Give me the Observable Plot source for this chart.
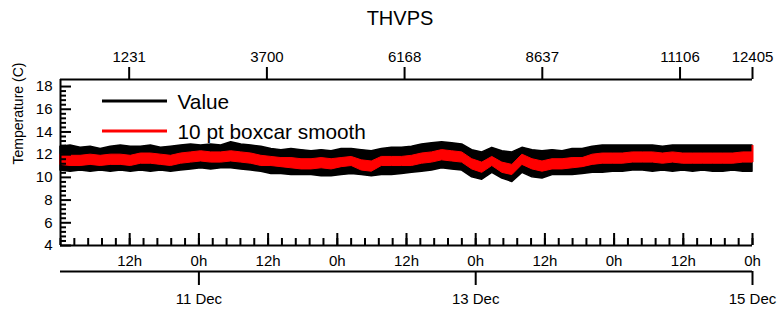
<!DOCTYPE html>
<html><head><meta charset="utf-8">
<script src="https://cdn.jsdelivr.net/npm/d3@7"></script>
<script src="https://cdn.jsdelivr.net/npm/@observablehq/plot@0.6"></script>
<style>
body{margin:0;background:#fff;font-family:"Liberation Sans",Arial,sans-serif;}
#title{height:36px;line-height:36px;width:778px;text-align:center;font-size:20px;padding-left:22px;box-sizing:border-box;color:#000;}
</style></head><body>
<div id="title">THVPS</div>
<div id="chart"></div>
<script>
// sample index positions where the envelopes were read
const sampleIdx = [0,180,360,540,720,900,1080,1260,1440,1620,1800,1980,2160,2340,2520,2700,2880,3060,3240,3420,3600,3780,3960,4140,4320,4500,4680,4860,5040,5220,5400,5580,5760,5940,6120,6300,6480,6660,6840,7020,7200,7380,7560,7740,7920,8100,8280,8460,8640,8820,9000,9180,9360,9540,9720,9900,10080,10260,10440,10620,10800,10980,11160,11340,11520,11700,11880,12060,12240,12405];
// "Value" series: upper / lower envelope (deg C)
const valueHi = [12.7,12.8,12.6,12.7,12.5,12.7,12.8,12.7,12.7,12.8,12.6,12.7,12.8,12.9,12.8,12.9,12.8,13.1,12.9,12.8,12.7,12.5,12.4,12.5,12.4,12.3,12.4,12.3,12.5,12.5,12.4,12.3,12.5,12.6,12.6,12.7,12.9,13.0,13.1,13.0,12.9,12.4,12.2,12.6,12.3,12.2,12.6,12.4,12.3,12.4,12.3,12.5,12.5,12.7,12.8,12.8,12.8,12.8,12.8,12.8,12.7,12.8,12.8,12.8,12.8,12.8,12.8,12.8,12.8,12.8];
const valueLo = [10.6,10.5,10.6,10.5,10.6,10.5,10.6,10.5,10.6,10.5,10.6,10.5,10.6,10.7,10.8,10.7,10.8,10.8,10.7,10.6,10.5,10.3,10.3,10.2,10.2,10.2,10.1,10.1,10.2,10.3,10.2,10.1,10.2,10.2,10.3,10.4,10.5,10.6,10.8,10.7,10.6,10.0,9.8,10.4,9.9,9.6,10.4,10.0,9.9,10.2,10.2,10.2,10.3,10.4,10.4,10.5,10.5,10.6,10.6,10.5,10.6,10.5,10.6,10.5,10.6,10.5,10.5,10.6,10.5,10.5];
// "10 pt boxcar smooth" series: upper / lower envelope (deg C)
const smoothHi = [12.0,11.9,11.9,12.0,11.9,12.0,12.0,11.9,12.1,12.1,12.0,11.9,12.1,12.2,12.3,12.2,12.2,12.3,12.2,12.1,11.9,11.8,11.7,11.7,11.6,11.6,11.7,11.6,11.7,11.8,11.5,11.4,11.8,11.8,11.8,11.9,12.1,12.2,12.4,12.3,12.2,11.6,11.3,11.8,11.3,11.1,12.0,11.6,11.4,11.6,11.6,11.7,11.7,12.0,12.1,12.1,12.1,12.2,12.2,12.2,12.1,12.2,12.1,12.1,12.1,12.1,12.1,12.1,12.2,12.2];
const smoothLo = [11.1,11.0,11.0,11.1,11.0,11.1,11.1,11.0,11.2,11.2,11.1,11.0,11.2,11.3,11.4,11.3,11.3,11.4,11.3,11.2,11.0,11.0,10.9,10.8,10.7,10.7,10.8,10.7,10.9,11.0,10.6,10.5,11.0,11.0,11.0,11.0,11.2,11.3,11.5,11.4,11.3,10.7,10.4,11.0,10.4,10.2,11.1,10.7,10.5,10.7,10.7,10.8,10.9,11.1,11.2,11.2,11.2,11.3,11.3,11.3,11.2,11.3,11.2,11.2,11.2,11.2,11.2,11.2,11.3,11.3];

const seriesNames = ["Value", "10 pt boxcar smooth"];
const seriesColors = ["black", "red"];

// axes
const nSamples = 12405;          // last sample number
const spanHours = 120;           // 10 Dec 0h .. 15 Dec 0h
const topTicks = [1231, 3700, 6168, 8637, 11106, 12405];
const yMajor = [4, 6, 8, 10, 12, 14, 16, 18];
const yMax = 18.62;
const hourTicks = [12, 24, 36, 48, 60, 72, 84, 96, 108, 120];
const hourLabels = ["12h","0h","12h","0h","12h","0h","12h","0h","12h","0h"];
const dateTicks = [24, 72, 120];
const dateLabels = ["11 Dec", "13 Dec", "15 Dec"];

const rows = sampleIdx.map((i, k) => ({i, vhi: valueHi[k], vlo: valueLo[k], shi: smoothHi[k], slo: smoothLo[k]}));
const h2i = h => h * nSamples / spanHours;
const yMinor = d3.range(4, 18.01, 0.4).filter(v => Math.abs(v / 2 - Math.round(v / 2)) > 1e-6);
const hourMinor = d3.range(0, spanHours + 0.01, 2.4);

const W = 778, H = 277, mL = 60, mR = 26, mT = 43, mB = 68;
const plotW = W - mL - mR, plotH = H - mT - mB;
const font = '"Liberation Sans", Arial, sans-serif';
const legendDy = [22, 52];

const chart = Plot.plot({
  width: W, height: H,
  marginLeft: mL, marginRight: mR, marginTop: mT, marginBottom: mB,
  style: {fontFamily: font, fontSize: "15px", color: "black", background: "white", overflow: "visible"},
  x: {domain: [0, nSamples], axis: null},
  y: {domain: [4, yMax], axis: null},
  marks: [
    Plot.areaY(rows, {x: "i", y1: "vlo", y2: "vhi", fill: seriesColors[0], stroke: seriesColors[0], strokeWidth: 1.5, curve: "linear"}),
    Plot.areaY(rows, {x: "i", y1: "slo", y2: "shi", fill: seriesColors[1], stroke: seriesColors[1], strokeWidth: 1, curve: "linear"}),
    Plot.ruleX([rows[rows.length - 1]], {x: "i", y1: "slo", y2: "vhi", stroke: seriesColors[1], strokeWidth: 2}),
    // frame lines
    Plot.ruleX([0], {stroke: "black", strokeWidth: 2}),
    Plot.ruleY([4], {stroke: "black", strokeWidth: 2}),
    Plot.ruleY([yMax], {stroke: "black", strokeWidth: 2}),
    Plot.ruleY([4], {stroke: "black", strokeWidth: 2, dy: 26}),
    // y ticks (inward)
    Plot.tickY(yMajor, {y: d => d, insetRight: plotW - 11, stroke: "black", strokeWidth: 2}),
    Plot.tickY(yMinor, {y: d => d, insetRight: plotW - 6, stroke: "black", strokeWidth: 2}),
    Plot.text(yMajor, {y: d => d, text: d => String(d), frameAnchor: "left", dx: -8, textAnchor: "end", fontSize: 15}),
    Plot.text(["Temperature (C)"], {frameAnchor: "left", dx: -42, dy: 2, rotate: -90, fontSize: 14}),
    // bottom hour axis (inward ticks)
    Plot.tickX(hourTicks, {x: h2i, insetTop: plotH - 12, stroke: "black", strokeWidth: 2}),
    Plot.tickX(hourMinor, {x: h2i, insetTop: plotH - 7, stroke: "black", strokeWidth: 2}),
    Plot.text(hourTicks, {x: h2i, text: (d, k) => hourLabels[k], frameAnchor: "bottom", dy: 16, lineAnchor: "middle", fontSize: 15}),
    // date axis
    Plot.tickX(dateTicks, {x: h2i, insetTop: plotH + 26, insetBottom: -40, stroke: "black", strokeWidth: 2}),
    Plot.text(dateTicks, {x: h2i, text: (d, k) => dateLabels[k], frameAnchor: "bottom", dy: 54, lineAnchor: "middle", fontSize: 15}),
    // top sample axis
    Plot.tickX(topTicks, {x: d => d, insetTop: -12, insetBottom: plotH, stroke: "black", strokeWidth: 2}),
    Plot.text(topTicks, {x: d => d, text: d => String(d), frameAnchor: "top", dy: -22, lineAnchor: "middle", fontSize: 15}),
    // legend labels
    ...seriesNames.map((name, k) =>
      Plot.text([name], {text: d => d, frameAnchor: "top-left", dx: 117, dy: legendDy[k] + 1, textAnchor: "start", lineAnchor: "middle", fontSize: 20.8}))
  ]
});
// legend line samples
const svg = d3.select(chart);
seriesColors.forEach((c, k) => {
  svg.append("line").attr("x1", 102).attr("x2", 167)
    .attr("y1", mT + legendDy[k]).attr("y2", mT + legendDy[k])
    .attr("stroke", c).attr("stroke-width", 3);
});
document.getElementById("chart").appendChild(chart);
</script>
</body></html>
